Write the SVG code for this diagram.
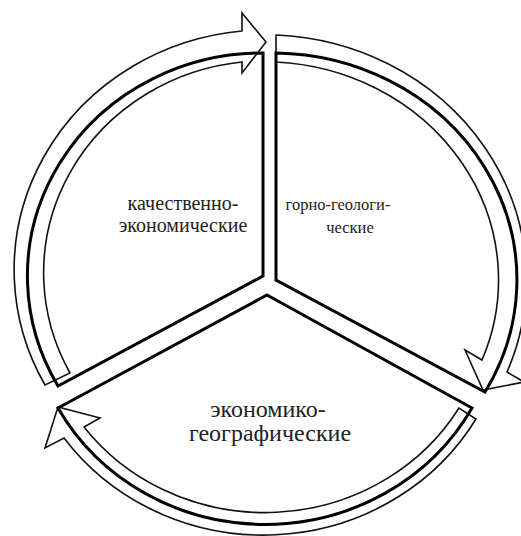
<svg xmlns="http://www.w3.org/2000/svg" width="521" height="536" viewBox="0 0 521 536">
<style>
.sector{fill:none;stroke:#000;stroke-width:3;stroke-linejoin:miter}
.arrow{fill:none;stroke:#111;stroke-width:1.6;stroke-linejoin:miter}
.lbl{fill:#222;text-anchor:middle;font-family:'Liberation Serif','Times New Roman',serif}
</style>
<rect width="521" height="536" fill="#fff"/>
<g id="connectors">
<path class="arrow" d="M 45,385 A 252 240 0 0 1 242,31 L 242,13 L 266,42 L 242,73 L 242,62 A 222 212 0 0 0 70,373 Z"/>
<path class="arrow" d="M 276,35 A 262 245 0 0 1 507,372 L 524,382 L 483,390 L 465,350 L 482,360 A 235 218 0 0 0 276,62 Z"/>
<path class="arrow" d="M 476,419 A 246 234 0 0 1 64,438 L 45,448 L 58,407 L 100,418 L 84,427 A 226 214 0 0 0 459,408 Z"/>
</g>
<g id="node-quality">
<path class="sector" d="M 263,276 L 263,53 A 235 223 0 0 0 58,386 Z"/>
<text class="lbl" x="183" y="210" font-size="20">качественно-</text>
<text class="lbl" x="183" y="232" font-size="20">экономические</text>
</g>
<g id="node-geology">
<path class="sector" d="M 276,280 L 276,53 A 245 227 0 0 1 485,392 Z"/>
<text class="lbl" x="338" y="210" font-size="16.5">горно-геологи-</text>
<text class="lbl" x="350" y="233" font-size="16.5">ческие</text>
</g>
<g id="node-geography">
<path class="sector" d="M 267,295 L 472,408 A 236 224 0 0 1 58,408 Z"/>
<text class="lbl" x="268" y="417" font-size="24">экономико-</text>
<text class="lbl" x="270" y="441" font-size="24">географические</text>
</g>
</svg>
